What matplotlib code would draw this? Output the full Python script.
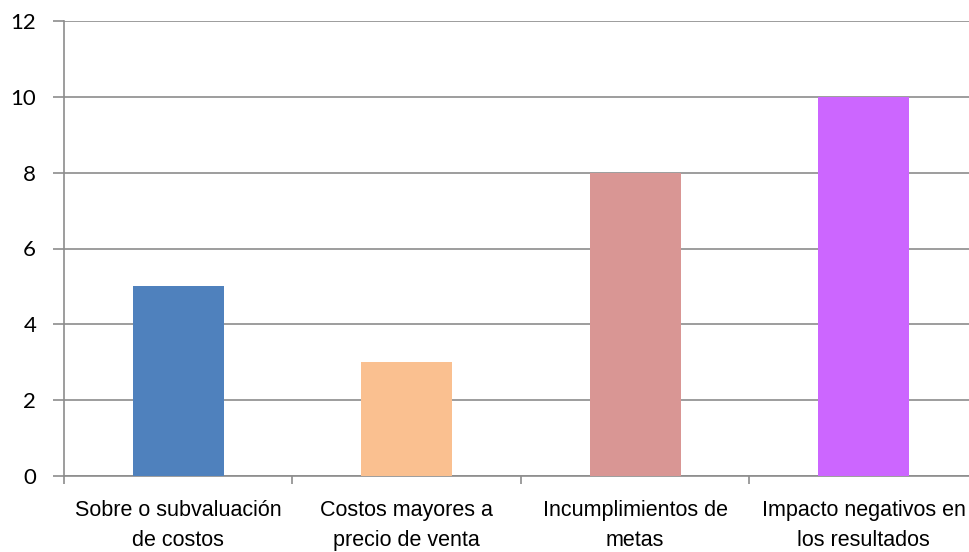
import matplotlib
matplotlib.use("Agg")
import matplotlib.pyplot as plt
import numpy as np

categories = ["Sobre o subvaluación\nde costos", "Costos mayores a\nprecio de venta",
              "Incumplimientos de\nmetas", "Impacto negativos en\nlos resultados"]
values = [5, 3, 8, 10]
colors = ["#4F81BD", "#FAC090", "#D99694", "#CC66FF"]
yticks = [0, 2, 4, 6, 8, 10, 12]

fig = plt.figure(figsize=(9.69, 5.52), dpi=100)
ax = fig.add_axes([64 / 969, 76 / 552, 914 / 969, 455 / 552])

x = np.arange(len(categories))
ax.bar(x, values, width=0.40, color=colors, zorder=3)

ax.set_xlim(-0.5, len(categories) - 0.5)
ax.set_ylim(0, 12)
ax.set_yticks(yticks)
ax.set_yticklabels([str(t) for t in yticks], fontsize=16, family="Lato")
ax.yaxis.grid(True, color="#8C8C8C", linewidth=1.2, zorder=0)
ax.tick_params(axis="y", length=8, width=1.2, color="#8C8C8C", pad=12)

# category labels centered on bars, tick marks at category boundaries
ax.set_xticks(x)
ax.set_xticklabels(categories, fontsize=15.5, family="Liberation Sans",
                   linespacing=1.6)
ax.tick_params(axis="x", which="major", length=0, pad=17)
ax.set_xticks(np.arange(len(categories) + 1) - 0.5, minor=True)
ax.tick_params(axis="x", which="minor", length=6, width=1.2, color="#8C8C8C")

for side in ["top", "right"]:
    ax.spines[side].set_visible(False)
for side in ["left", "bottom"]:
    ax.spines[side].set_color("#8C8C8C")
    ax.spines[side].set_linewidth(1.2)

fig.savefig("out.png", dpi=100)
